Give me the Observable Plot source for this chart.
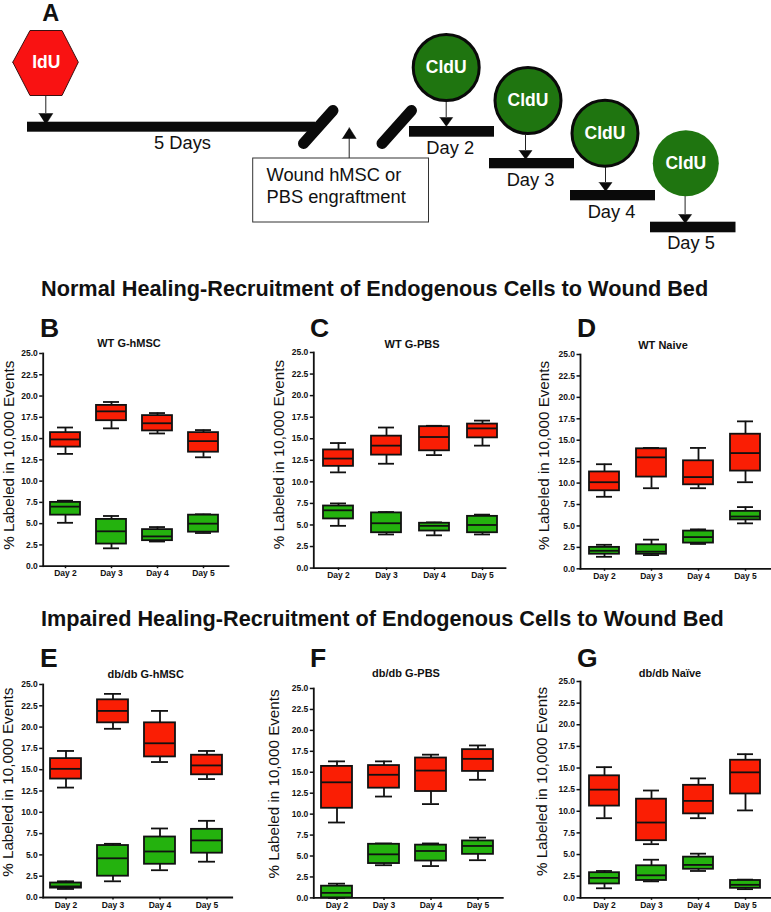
<!DOCTYPE html>
<html><head><meta charset="utf-8">
<script src="https://cdn.jsdelivr.net/npm/d3@7"></script>
<script src="https://cdn.jsdelivr.net/npm/@observablehq/plot@0.6"></script>
<style>
html,body{margin:0;padding:0;background:#fff}
#page{position:relative;width:771px;height:912px;overflow:hidden;font-family:"Liberation Sans",Arial,sans-serif;color:#111}
#page svg{position:absolute}
.t{position:absolute;line-height:1;font-weight:bold;white-space:nowrap}
</style></head><body><div id="page"></div>
<script>
const days=["Day 2","Day 3","Day 4","Day 5"];
const yTicks=[0,2.5,5,7.5,10,12.5,15,17.5,20,22.5,25];
const yLabel="% Labeled in 10,000 Events";
const redFill="#fa1e04", greenFill="#24b20e", ink="#111";
// each row: whisker low, Q1, median, Q3, whisker high (one row per day)
const bRed=[[13.2,14.0,14.9,15.7,16.3],[16.2,17.1,18.2,18.9,19.3],[15.6,15.9,16.8,17.7,18.0],[12.8,13.4,14.7,15.7,16.0]];
const bGreen=[[5.1,6.0,7.0,7.5,7.7],[2.1,2.6,4.1,5.5,5.9],[2.9,3.0,3.5,4.3,4.6],[3.9,4.0,5.0,6.0,6.1]];
const cRed=[[11.1,11.8,12.7,13.7,14.5],[12.1,13.1,14.2,15.3,16.3],[13.1,13.6,15.2,16.4,16.5],[14.2,15.1,16.2,16.7,17.1]];
const cGreen=[[4.9,5.7,6.7,7.2,7.5],[3.9,4.1,5.2,6.4,6.5],[3.8,4.3,4.9,5.2,5.3],[3.9,4.1,5.0,6.0,6.2]];
const dRed=[[8.4,9.1,10.1,11.3,12.2],[9.4,10.7,13.0,14.0,14.1],[9.4,9.8,10.7,12.6,14.1],[10.1,11.4,13.5,15.7,17.2]];
const dGreen=[[1.4,1.7,2.1,2.5,2.8],[1.6,1.7,2.0,2.8,3.4],[2.9,3.0,3.7,4.4,4.6],[5.3,5.7,6.1,6.7,7.2]];
const eRed=[[12.9,13.9,15.1,16.3,17.2],[19.8,20.5,21.9,23.2,23.9],[15.9,16.5,18.1,20.5,21.9],[13.9,14.4,15.5,16.7,17.2]];
const eGreen=[[1.0,1.1,1.3,1.7,1.9],[1.9,2.5,4.6,6.1,6.3],[3.2,3.9,5.4,7.1,8.1],[4.2,5.2,6.7,8.0,9.0]];
const fRed=[[9.0,10.7,13.8,15.7,16.3],[12.1,13.1,14.7,15.8,16.3],[11.2,12.7,15.2,16.7,17.1],[14.1,15.1,16.6,17.7,18.2]];
const fGreen=[[0,0,0.6,1.4,1.7],[3.9,4.1,5.2,6.4,6.5],[3.8,4.4,5.6,6.3,6.5],[4.5,5.2,6.2,6.8,7.2]];
const gRed=[[9.2,10.6,12.5,14.1,15.1],[6.2,6.6,8.7,11.4,12.4],[9.2,9.7,11.2,13.0,13.8],[10.1,12.0,14.5,15.9,16.6]];
const gGreen=[[1.1,1.6,2.3,2.9,3.1],[1.9,2.0,2.6,3.7,4.4],[3.1,3.3,3.8,4.7,5.1],[1.0,1.1,1.5,2.0,2.1]];

const page=document.getElementById("page");
function label(text,x,baseline,size,center){
  const d=document.createElement("div");d.className="t";d.textContent=text;
  d.style.fontSize=size+"px";d.style.left=x+"px";d.style.top=(baseline-.8465*size)+"px";
  if(center)d.style.transform="translateX(-50%)";
  page.appendChild(d);
}
function rows(red,green){
  const out=[];
  [[red,redFill],[green,greenFill]].forEach(([s,c])=>s.forEach((r,i)=>out.push({day:days[i],lo:r[0],q1:r[1],med:r[2],q3:r[3],hi:r[4],color:c})));
  return out;
}
function panel(c){
  const L=c.L, T=c.y25-10, B=c.y0+22;
  const s=c.step, bw=30.5, pi=1-bw/s, sw=1.8;
  const data=rows(c.red,c.green);
  const plot=Plot.plot({
    width:c.xEnd-L,height:B-T,
    marginLeft:c.axis-L,marginRight:0,marginTop:10,marginBottom:22,
    style:{fontFamily:"'Liberation Sans',Arial,sans-serif",background:"transparent",overflow:"visible",color:ink},
    x:{domain:days,range:[c.c0-s/2-L,c.c0+3.5*s-L],paddingInner:pi,paddingOuter:pi/2,label:null},
    y:{domain:[0,25],label:null},
    marks:[
      Plot.ruleX(data,{x:"day",y1:"lo",y2:"hi",stroke:ink,strokeWidth:sw}),
      Plot.tickY(data,{x:"day",y:"lo",stroke:ink,strokeWidth:sw,insetLeft:7,insetRight:7}),
      Plot.tickY(data,{x:"day",y:"hi",stroke:ink,strokeWidth:sw,insetLeft:7,insetRight:7}),
      Plot.barY(data,{x:"day",y1:"q1",y2:"q3",fill:"color",stroke:ink,strokeWidth:sw}),
      Plot.tickY(data,{x:"day",y:"med",stroke:ink,strokeWidth:sw}),
      Plot.frame({anchor:"left",stroke:ink,strokeWidth:sw}),
      Plot.frame({anchor:"bottom",stroke:ink,strokeWidth:sw}),
      Plot.axisY(yTicks,{tickFormat:d=>d.toFixed(1),tickSize:3.5,tickPadding:2,fontSize:8.5,fontWeight:"bold",strokeWidth:1.5,stroke:ink,fill:ink}),
      Plot.axisX({tickSize:2.5,tickPadding:1.5,fontSize:8.5,fontWeight:"bold",strokeWidth:1.5,stroke:ink,fill:ink}),
      Plot.text([yLabel],{frameAnchor:"left",rotate:-90,textAnchor:"middle",lineAnchor:"middle",dx:c.lx-c.axis,dy:c.ly-(c.y25+c.y0)/2,fontSize:15.2,fill:ink})
    ]
  });
  plot.style.left=L+"px";plot.style.top=T+"px";
  page.appendChild(plot);
  label(c.letter,c.letterX,c.letterY,26.5,false);
  label(c.title,c.titleX,c.titleY,11,true);
}
panel({letter:"B",letterX:40,letterY:337,title:"WT G-hMSC",titleX:129,titleY:347.5,red:bRed,green:bGreen,L:0,axis:42.7,c0:65,step:46,y25:353,y0:565.7,xEnd:228,lx:9,ly:454.7});
panel({letter:"C",letterX:310,letterY:337,title:"WT G-PBS",titleX:412,titleY:348,red:cRed,green:cGreen,L:262,axis:313.3,c0:336.7,step:48.7,y25:351.7,y0:567.3,xEnd:505,lx:279,ly:453.8});
panel({letter:"D",letterX:577,letterY:337,title:"WT Naive",titleX:663,titleY:349,red:dRed,green:dGreen,L:530,axis:580,c0:603.3,step:47.7,y25:354,y0:568.3,xEnd:771,lx:543.5,ly:455});
panel({letter:"E",letterX:40,letterY:667,title:"db/db G-hMSC",titleX:145.7,titleY:678,red:eRed,green:eGreen,L:0,axis:42.7,c0:65.7,step:47,y25:684.3,y0:897.3,xEnd:231.7,lx:7.5,ly:782});
panel({letter:"F",letterX:310,letterY:667,title:"db/db G-PBS",titleX:406,titleY:677.7,red:fRed,green:fGreen,L:262,axis:313.3,c0:336.7,step:47,y25:688.3,y0:897.7,xEnd:502.3,lx:274,ly:783.8});
panel({letter:"G",letterX:577,letterY:667,title:"db/db Naïve",titleX:670,titleY:677.7,red:gRed,green:gGreen,L:530,axis:580,c0:603.3,step:47.3,y25:681,y0:897.3,xEnd:771,lx:541.5,ly:781});

label("Normal Healing-Recruitment of Endogenous Cells to Wound Bed",41,296,21.7,false);
label("Impaired Healing-Recruitment of Endogenous Cells to Wound Bed",41,626,21.7,false);
label("A",50.7,21.5,23.5,true);

// Protocol schematic
const barsS=[[27,315,121.7,131.7],[409,494,126,136.7],[489,574,158,168.3],[570,655,190,200.3],[650,735.5,221.7,232.3]];
const slashes=[[303,143,332.5,110],[381.5,143,411,110]];
const hexagon=[[12.3,61.7],[29.5,30],[61.5,30],[77.8,61.7],[61.5,95],[29.5,95]];
const circlesS=[{x:445.7,y:67},{x:527.5,y:100},{x:604.5,y:132.7}];
const circleLast=[{x:685.3,y:162.8}];
const arrowsDown=[{x:45.3,y1:95,y2:113},{x:445.7,y1:102,y2:117},{x:525,y1:135,y2:150},{x:605,y1:167,y2:182},{x:684.6,y1:196,y2:214}];
const triangles=[];
arrowsDown.forEach((a,i)=>{const h=i?9:11,w=i?6.5:7;triangles.push({id:i,x:a.x-w,y:a.y2},{id:i,x:a.x+w,y:a.y2},{id:i,x:a.x,y:a.y2+h});});
triangles.push({id:9,x:341.7,y:138},{id:9,x:355.7,y:138},{id:9,x:348.7,y:127});
const textsDark=[["5 Days",182,143],["Day 2",449.7,147.7],["Day 3",530,180],["Day 4",611,212],["Day 5",690.5,243]];
const schem=Plot.plot({
  width:771,height:250,margin:0,
  style:{fontFamily:"'Liberation Sans',Arial,sans-serif",background:"transparent",overflow:"visible"},
  x:{domain:[0,771],range:[0,771],axis:null},
  y:{domain:[0,250],range:[0,250],axis:null},
  marks:[
    Plot.ruleX(arrowsDown,{x:"x",y1:"y1",y2:"y2",stroke:"#222",strokeWidth:1}),
    Plot.ruleX([348.7],{y1:[138],y2:[158],stroke:"#222",strokeWidth:1}),
    Plot.line(triangles,{x:"x",y:"y",z:"id",fill:"#0a0a0a",stroke:"#0a0a0a",strokeWidth:.5}),
    Plot.rect(barsS,{x1:d=>d[0],x2:d=>d[1],y1:d=>d[2],y2:d=>d[3],fill:"#0a0a0a"}),
    Plot.link(slashes,{x1:d=>d[0],y1:d=>d[1],x2:d=>d[2],y2:d=>d[3],stroke:"#0a0a0a",strokeWidth:11,strokeLinecap:"round"}),
    Plot.line([...hexagon,hexagon[0]],{x:d=>d[0],y:d=>d[1],fill:"#f91212",stroke:"#3a1010",strokeWidth:1}),
    Plot.dot(circlesS,{x:"x",y:"y",r:33,fill:"#1f7510",stroke:"#0a0a0a",strokeWidth:3}),
    Plot.dot(circleLast,{x:"x",y:"y",r:33,fill:"#1f7510"}),
    Plot.rect([0],{x1:[252.7],x2:[428.5],y1:[158],y2:[222],fill:"#fff",stroke:"#333",strokeWidth:1}),
    Plot.text(["IdU"],{x:[45.8],y:[61.7],fill:"#fff",fontSize:17.5,fontWeight:"bold"}),
    Plot.text([...circlesS,...circleLast],{x:"x",y:"y",text:()=>"CldU",fill:"#fff",fontSize:17.5,fontWeight:"bold"}),
    Plot.text(textsDark,{x:d=>d[1],y:d=>d[2],text:d=>d[0],fill:"#111",fontSize:18.3}),
    Plot.text(["Wound hMSC or","PBS engraftment"],{x:[266,266],y:[175,197],textAnchor:"start",fill:"#111",fontSize:18.3})
  ]
});
schem.style.left="0";schem.style.top="0";
page.insertBefore(schem,page.firstChild);
</script></body></html>
